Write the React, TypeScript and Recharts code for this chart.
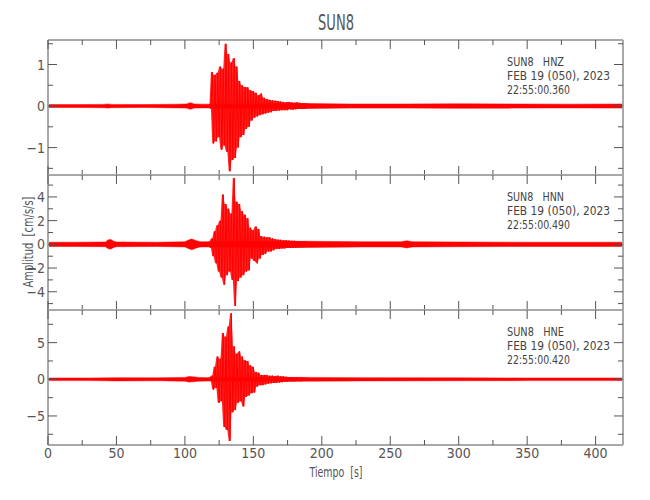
import React from 'react'
import { ComposedChart, Area, Line, XAxis, YAxis } from 'recharts'

const W = 650
const H = 500
const RED = '#ff0000'
const FONT = "'Liberation Sans Narrow', 'DejaVu Sans Condensed', 'DejaVu Sans', sans-serif"

// time axis, seconds
const timeTicks = [0, 25, 50, 75, 100, 125, 150, 175, 200, 225, 250, 275, 300, 325, 350, 375, 400]
const timeLabels = [0, 50, 100, 150, 200, 250, 300, 350, 400]

// strong motion part is read at one sample per second from this time on
const burstStart = 118

// HNZ
const hnzNoiseT = [0, 20, 40, 44, 46, 70, 95, 101, 104, 107, 112, 118, 190, 220, 260, 300, 340, 380, 420]
const hnzNoiseAmp = [0.035, 0.035, 0.04, 0.05, 0.04, 0.035, 0.045, 0.05, 0.08, 0.05, 0.045, 0.045, 0.06, 0.05, 0.05, 0.055, 0.05, 0.045, 0.05]
const hnzBurst = [
  0.05, -0.06, 0.82, -0.9, 0.75, -0.85, 0.8, -0.75, 0.95, -1.05,
  0.9, -0.95, 1.5, -1.1, 1.25, -1.57, 1.05, -1.3, 1.15, -1.25,
  0.95, -1.0, 0.6, -0.75, 0.5, -0.7, 0.46, -0.55, 0.45, -0.5,
  0.38, -0.35, 0.36, -0.28, 0.32, -0.25, 0.26, -0.22, 0.3, -0.2,
  0.2, -0.18, 0.17, -0.16, 0.15, -0.15, 0.14, -0.12, 0.13, -0.12,
  0.12, -0.11, 0.11, -0.1, 0.1, -0.1, 0.09, -0.1, 0.1, -0.08,
  0.09, -0.09, 0.08, -0.08, 0.09, -0.07, 0.08, -0.07, 0.07, -0.07,
  0.07, -0.06, 0.06,
]

// HNN
const hnnNoiseT = [0, 20, 42, 44, 46, 48, 50, 80, 100, 103, 105, 108, 111, 118, 190, 230, 258, 262, 266, 300, 350, 420]
const hnnNoiseAmp = [0.18, 0.18, 0.2, 0.38, 0.4, 0.26, 0.2, 0.18, 0.22, 0.38, 0.45, 0.32, 0.22, 0.22, 0.26, 0.22, 0.22, 0.3, 0.22, 0.2, 0.18, 0.18]
const hnnBurst = [
  0.25, -0.3, 0.5, -1.0, 1.1, -1.6, 1.6, -2.3, 2.0, -2.8,
  4.2, -3.4, 3.4, -2.6, 3.0, -2.3, 2.6, -3.0, 5.6, -5.2,
  3.6, -3.1, 3.4, -2.8, 2.8, -2.6, 2.5, -2.3, 2.2, -2.2,
  1.4, -1.2, 1.2, -1.4, 1.5, -1.6, 1.3, -1.2, 0.7, -0.9,
  0.65, -0.8, 0.6, -0.6, 0.6, -0.6, 0.5, -0.5, 0.45, -0.4,
  0.4, -0.4, 0.38, -0.35, 0.35, -0.35, 0.35, -0.3, 0.32, -0.3,
  0.3, -0.3, 0.3, -0.28, 0.28, -0.28, 0.27, -0.25, 0.25, -0.25,
  0.25, -0.22, 0.22,
]

// HNE
const hneNoiseT = [0, 30, 50, 80, 100, 103, 106, 110, 118, 190, 230, 300, 350, 420]
const hneNoiseAmp = [0.18, 0.18, 0.22, 0.2, 0.26, 0.38, 0.34, 0.26, 0.22, 0.26, 0.22, 0.2, 0.18, 0.18]
const hneBurst = [
  0.25, -0.25, 0.5, -1.4, 1.7, -1.2, 3.1, -3.2, 2.8, -3.0,
  6.3, -6.5, 5.8, -6.9, 7.2, -8.4, 9.0, -4.5, 4.5, -4.2,
  3.5, -3.2, 3.8, -3.0, 3.1, -3.7, 2.6, -2.4, 2.5, -2.2,
  1.9, -1.9, 1.7, -1.8, 1.0, -1.0, 0.9, -0.8, 0.6, -0.8,
  0.6, -0.7, 0.6, -0.6, 0.5, -0.55, 0.5, -0.5, 0.45, -0.5,
  0.5, -0.45, 0.4, -0.4, 0.4, -0.35, 0.35, -0.35, 0.3, -0.3,
  0.3, -0.3, 0.28, -0.28, 0.28, -0.25, 0.25, -0.25, 0.25, -0.22,
  0.22, -0.22, 0.22,
]

const channels = [
  {
    code: 'HNZ', clock: '22:55:00.360',
    noiseT: hnzNoiseT, noiseAmp: hnzNoiseAmp, burst: hnzBurst,
    domain: [-1.66, 1.59], major: [-1, 0, 1], minor: [-1.5, -0.5, 0.5, 1.5],
  },
  {
    code: 'HNN', clock: '22:55:00.490',
    noiseT: hnnNoiseT, noiseAmp: hnnNoiseAmp, burst: hnnBurst,
    domain: [-5.54, 5.85], major: [-4, -2, 0, 2, 4], minor: [-5, -3, -1, 1, 3, 5],
  },
  {
    code: 'HNE', clock: '22:55:00.420',
    noiseT: hneNoiseT, noiseAmp: hneNoiseAmp, burst: hneBurst,
    domain: [-8.96, 9.45], major: [-5, 0, 5], minor: [-7.5, -2.5, 2.5, 7.5],
  },
]

const PANEL_TOP = 40
const PANEL_H = 135
const PLOT_LEFT = 48
const PLOT_RIGHT = 27
const XAXIS_H = 20

const fmt = (v: number) => (v < 0 ? `\u2212${Math.abs(v)}` : `${v}`)

const makeYTick = (major: number[], side: 'left' | 'right') => (props: any) => {
  const { x, y, payload } = props
  const isMajor = major.includes(payload.value)
  const len = isMajor ? 9 : 5
  const dir = side === 'left' ? 1 : -1
  return (
    <g>
      <line x1={x} x2={x + dir * len} y1={y} y2={y} stroke="#555" strokeWidth={1} />
      {side === 'left' && isMajor && (
        <text x={x - 3} y={y} dy="0.36em" textAnchor="end" fontSize={14} fontFamily={FONT} fill="#555">
          {fmt(payload.value)}
        </text>
      )}
    </g>
  )
}

const makeXTick = (side: 'top' | 'bottom', labels: boolean) => (props: any) => {
  const { x, y, payload } = props
  const isMajor = timeLabels.includes(payload.value)
  const len = isMajor ? 9 : 5
  const dir = side === 'top' ? 1 : -1
  return (
    <g>
      <line x1={x} x2={x} y1={y} y2={y + dir * len} stroke="#555" strokeWidth={1} />
      {labels && isMajor && (
        <text x={x} y={y + 13} textAnchor="middle" fontSize={14} fontFamily={FONT} fill="#555">
          {payload.value}
        </text>
      )}
    </g>
  )
}

const axisLine = { stroke: '#a8a8a8', strokeWidth: 2 }

function Panel({ ch, index }: { ch: (typeof channels)[number]; index: number }) {
  const top = PANEL_TOP + index * PANEL_H
  const noiseRows = ch.noiseT.map((t, i) => ({ t, band: [-ch.noiseAmp[i], ch.noiseAmp[i]] }))
  // each row also carries the span to the next sample, to fill the dense part of the record
  const burstRows = ch.burst.map((v, i) => {
    const next = i + 1 < ch.burst.length ? ch.burst[i + 1] : v
    return { t: burstStart + i, v, span: [Math.min(v, next), Math.max(v, next)] }
  })
  const yTicks = [...ch.major, ...ch.minor].sort((a, b) => a - b)
  const isLast = index === channels.length - 1
  return (
    <div style={{ position: 'absolute', left: 0, top: 0 }}>
      <ComposedChart
        width={W}
        height={H}
        margin={{ top: top - XAXIS_H, bottom: H - top - PANEL_H - XAXIS_H, left: 0, right: 0 }}
      >
        <XAxis
          xAxisId="b" orientation="bottom" type="number" dataKey="t"
          domain={[0, 420]} allowDataOverflow ticks={timeTicks} interval={0}
          height={XAXIS_H} tickSize={0} tickMargin={0} tickLine={false}
          axisLine={axisLine} tick={makeXTick('bottom', isLast)}
        />
        <XAxis
          xAxisId="t" orientation="top" type="number" dataKey="t"
          domain={[0, 420]} allowDataOverflow ticks={timeTicks} interval={0}
          height={XAXIS_H} tickSize={0} tickMargin={0} tickLine={false}
          axisLine={axisLine} tick={makeXTick('top', false)}
        />
        <YAxis
          yAxisId="l" orientation="left" type="number" width={PLOT_LEFT}
          domain={ch.domain} allowDataOverflow ticks={yTicks} interval={0}
          tickSize={0} tickMargin={0} tickLine={false}
          axisLine={axisLine} tick={makeYTick(ch.major, 'left')}
        />
        <YAxis
          yAxisId="r" orientation="right" type="number" width={PLOT_RIGHT}
          domain={ch.domain} allowDataOverflow ticks={yTicks} interval={0}
          tickSize={0} tickMargin={0} tickLine={false}
          axisLine={axisLine} tick={makeYTick(ch.major, 'right')}
        />
        <Area
          data={noiseRows} dataKey="band" xAxisId="b" yAxisId="l" type="linear"
          stroke={RED} strokeWidth={0.5} fill={RED} fillOpacity={1}
          dot={false} activeDot={false} isAnimationActive={false}
        />
        <Area
          data={burstRows} dataKey="span" xAxisId="b" yAxisId="l" type="linear"
          stroke="none" fill={RED} fillOpacity={0.85}
          dot={false} activeDot={false} isAnimationActive={false}
        />
        <Line
          data={burstRows} dataKey="v" xAxisId="b" yAxisId="l" type="linear"
          stroke={RED} strokeWidth={1} dot={false} activeDot={false} isAnimationActive={false}
        />
      </ComposedChart>
    </div>
  )
}

export default function App() {
  return (
    <div style={{ position: 'absolute', left: 0, top: 0, width: W, height: H, background: '#fff' }}>
      {channels.map((ch, i) => (
        <Panel key={ch.code} ch={ch} index={i} />
      ))}
      <svg width={W} height={H} style={{ position: 'absolute', left: 0, top: 0, pointerEvents: 'none' }}>
        <text x={336} y={30} textAnchor="middle" fontSize={22} fontFamily={FONT} fill="#555"
          textLength={36} lengthAdjust="spacingAndGlyphs">
          SUN8
        </text>
        {channels.map((ch, i) => {
          const y0 = 66 + i * PANEL_H
          return (
            <g key={ch.code} fontSize={13} fontFamily={FONT} fill="#444">
              <text x={507} y={y0} textLength={57} lengthAdjust="spacingAndGlyphs" style={{ whiteSpace: 'pre' }}>
                {`SUN8   ${ch.code}`}
              </text>
              <text x={507} y={y0 + 14} textLength={103} lengthAdjust="spacingAndGlyphs">
                FEB 19 (050), 2023
              </text>
              <text x={507} y={y0 + 28} textLength={63} lengthAdjust="spacingAndGlyphs">
                {ch.clock}
              </text>
            </g>
          )
        })}
        <text
          transform="translate(33, 242) rotate(-90)" textAnchor="middle" fontSize={14}
          fontFamily={FONT} fill="#555" textLength={91} lengthAdjust="spacingAndGlyphs"
          style={{ whiteSpace: 'pre' }}
        >
          {'Amplitud  [cm/s/s]'}
        </text>
        <text x={336} y={477} textAnchor="middle" fontSize={14} fontFamily={FONT} fill="#555"
          textLength={53} lengthAdjust="spacingAndGlyphs" style={{ whiteSpace: 'pre' }}>
          {'Tiempo  [s]'}
        </text>
      </svg>
    </div>
  )
}
